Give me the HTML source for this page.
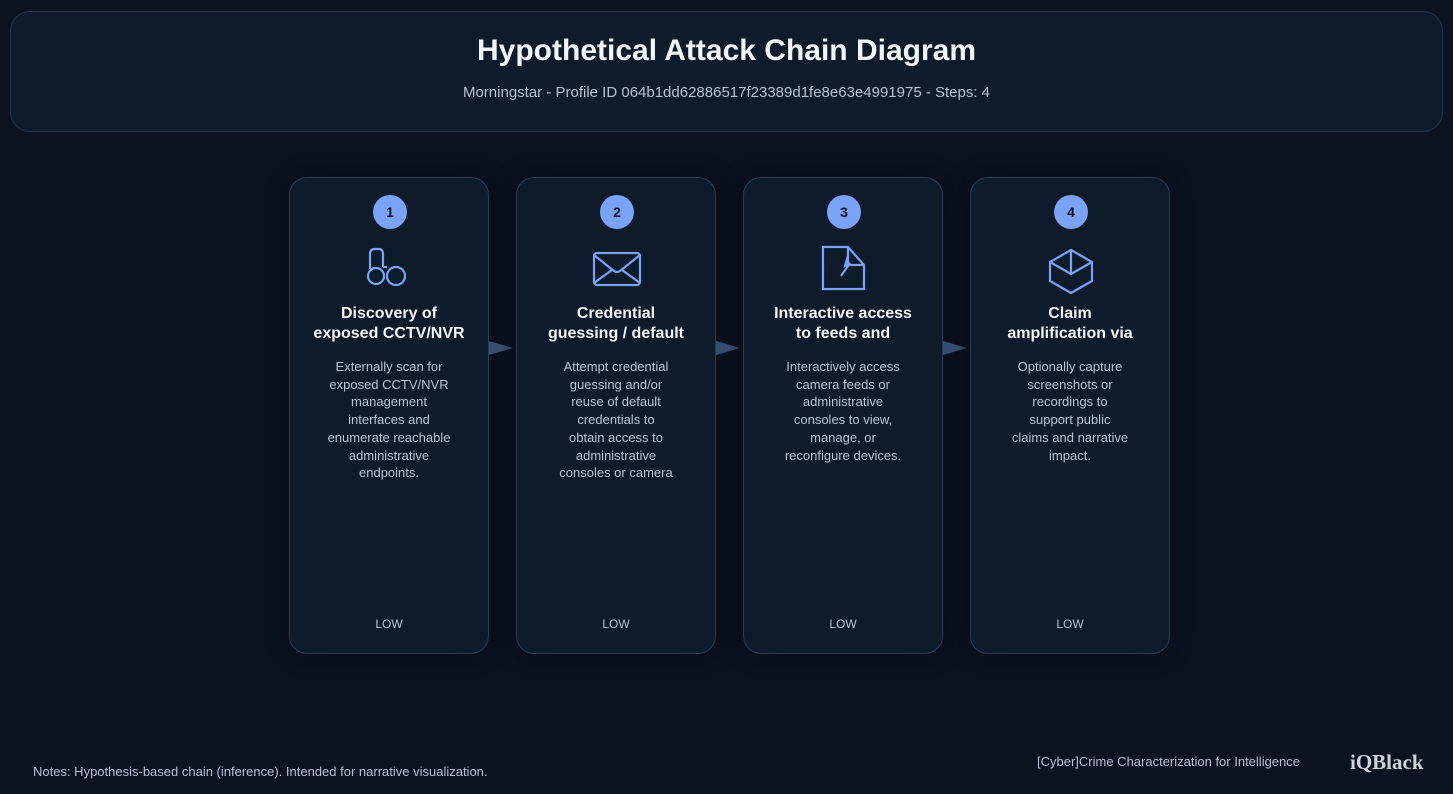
<!DOCTYPE html>
<html><head><meta charset="utf-8"><style>
*{margin:0;padding:0;box-sizing:border-box}
body{width:1453px;height:794px;background:#0b1220;font-family:"Liberation Sans",sans-serif;position:relative;overflow:hidden;color:#e8eef7}
.hdr{position:absolute;left:10px;top:11px;width:1433px;height:121px;border:1px solid #253449;border-radius:20px;background:#0d1b2a;text-align:center}
.hdr h1{position:absolute;top:22px;width:100%;font-size:30px;font-weight:bold;color:#f2f5fa}
.hdr p{position:absolute;top:72px;width:100%;font-size:15px;color:#b6c2d3}
.card{position:absolute;top:177px;width:200px;height:477px;border:1px solid #2a3b55;border-radius:18px;background:#0d1b2a;text-align:center;box-shadow:0 0 24px rgba(0,0,0,.35)}
.badge{position:absolute;left:83px;top:17px;width:34px;height:34px;border-radius:50%;background:#7aa2f7;color:#0b1220;font-weight:bold;font-size:14px;line-height:34px}
.icon{position:absolute;left:75px;top:66px;width:50px;height:50px}
.t{position:absolute;top:126px;left:0;right:0;font-size:16px;font-weight:bold;line-height:20px;color:#f2f5fa;white-space:nowrap}
.d{position:absolute;top:180px;left:0;right:0;font-size:13px;line-height:17.7px;color:#b8c4d4;white-space:nowrap}
.low{position:absolute;top:439px;width:100%;font-size:12px;color:#b8c4d4}
.arr{position:absolute;top:341px;width:0;height:0;border-top:7px solid transparent;border-bottom:7px solid transparent;border-left:24px solid #3a4e70}
.note{position:absolute;left:33px;top:764px;font-size:13px;color:#b6c2d3}
.brand{position:absolute;left:1037px;top:754px;font-size:13px;color:#b6c2d3}
.logo{position:absolute;left:1350px;top:750px;font-family:"Liberation Serif",serif;font-weight:bold;font-size:21px;color:#d0d4da}
</style></head><body>
<div class="hdr"><h1>Hypothetical Attack Chain Diagram</h1><p>Morningstar - Profile ID 064b1dd62886517f23389d1fe8e63e4991975 - Steps: 4</p></div>

<div class="card" style="left:289px"><div class="badge">1</div>
<svg class="icon" viewBox="0 0 50 50" fill="none" stroke="#7aa2f7" stroke-width="2.2"><path d="M5 25 V10 Q5 5 10 5 H14 Q18 5 18 10 V23 M18 23 H22"/><circle cx="11" cy="32" r="8"/><circle cx="31" cy="32" r="9"/></svg>
<div class="t">Discovery of<br>exposed CCTV/NVR</div>
<div class="d">Externally scan for<br>exposed CCTV/NVR<br>management<br>interfaces and<br>enumerate reachable<br>administrative<br>endpoints.</div>
<div class="low">LOW</div></div>
<div class="arr" style="left:489px"></div>

<div class="card" style="left:516px"><div class="badge">2</div>
<svg class="icon" viewBox="0 0 50 50" fill="none" stroke="#7aa2f7" stroke-width="2.2"><rect x="2" y="9" width="46" height="32" rx="3"/><path d="M2 11 L22 27 Q25 29 28 27 L48 11 M2 39 L20 26 M48 39 L30 26"/></svg>
<div class="t">Credential<br>guessing / default</div>
<div class="d">Attempt credential<br>guessing and/or<br>reuse of default<br>credentials to<br>obtain access to<br>administrative<br>consoles or camera</div>
<div class="low">LOW</div></div>
<div class="arr" style="left:716px"></div>

<div class="card" style="left:743px"><div class="badge">3</div>
<svg class="icon" viewBox="0 0 50 50" fill="none" stroke="#7aa2f7" stroke-width="2.2"><path d="M4 3 H29 L45 21 V45 H4 Z M29 3 V21 H45"/><path d="M29 11 L26 22 L31 19 L22 32" stroke-width="2"/></svg>
<div class="t">Interactive access<br>to feeds and</div>
<div class="d">Interactively access<br>camera feeds or<br>administrative<br>consoles to view,<br>manage, or<br>reconfigure devices.</div>
<div class="low">LOW</div></div>
<div class="arr" style="left:943px"></div>

<div class="card" style="left:970px"><div class="badge">4</div>
<svg class="icon" viewBox="0 0 50 50" fill="none" stroke="#7aa2f7" stroke-width="2.2"><path d="M25 6 L46 18 V37 L25 49 L4 37 V18 Z M4 18 L25 30 L46 18 M25 6 V30"/></svg>
<div class="t">Claim<br>amplification via</div>
<div class="d">Optionally capture<br>screenshots or<br>recordings to<br>support public<br>claims and narrative<br>impact.</div>
<div class="low">LOW</div></div>

<div class="note">Notes: Hypothesis-based chain (inference). Intended for narrative visualization.</div>
<div class="brand">[Cyber]Crime Characterization for Intelligence</div>
<div class="logo">iQBlack</div>
</body></html>
